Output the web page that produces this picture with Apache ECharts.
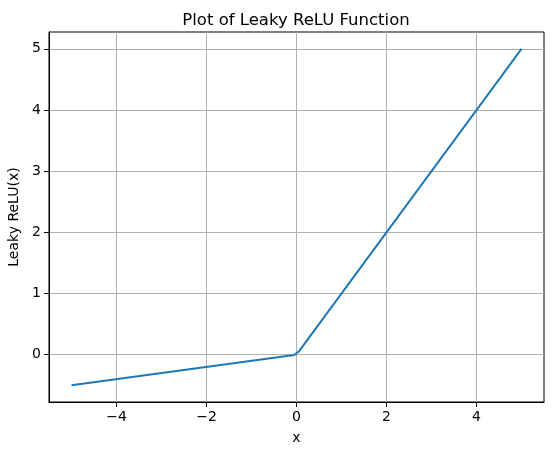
<!DOCTYPE html>
<html>
<head>
<meta charset="utf-8">
<script src="https://cdn.jsdelivr.net/npm/echarts@6/dist/echarts.min.js"></script>
<style>
  html, body { margin: 0; padding: 0; background: #fff; }
  #chart { width: 554px; height: 455px; }
</style>
</head>
<body>
<div id="chart"></div>
<script>
// points (kink sits just around x = 0)
const xValues = [-5, -0.05, 0.05, 5];
const yValues = [-0.5, -0.005, 0.05, 5];
const xTicks = [-4, -2, 0, 2, 4];
const yTicks = [0, 1, 2, 3, 4, 5];

const font = 'DejaVu Sans';
const minus = v => String(v).replace('-', '\u2212');

let chart = echarts.init(document.getElementById('chart'));

chart.setOption({
    animation: false,
    title: {
        text: 'Plot of Leaky ReLU Function',
        left: 291,
        textAlign: 'center',
        top: 7,
        textStyle: {
            fontFamily: font,
            fontSize: 16.5,
            fontWeight: 'normal',
            color: '#000'
        }
    },
    grid: {
        left: 49,
        right: 10,
        top: 32,
        bottom: 53,
        outerBoundsMode: 'none',
        containLabel: false,
        show: true,
        borderColor: '#000',
        borderWidth: 1
    },
    xAxis: {
        type: 'value',
        min: -5.5,
        max: 5.5,
        name: 'x',
        nameLocation: 'middle',
        nameGap: 29,
        nameTextStyle: {fontFamily: font, fontSize: 14, color: '#000'},
        axisLine: {show: true, onZero: false, lineStyle: {color: '#000', width: 1}},
        axisTick: {show: true, length: 5, customValues: xTicks, lineStyle: {color: '#000'}},
        axisLabel: {
            customValues: xTicks,
            fontFamily: font, fontSize: 14, color: '#000', margin: 8,
            formatter: minus
        },
        splitLine: {show: true, lineStyle: {color: '#b0b0b0', width: 1}}
    },
    yAxis: {
        type: 'value',
        min: -0.775,
        max: 5.275,
        name: 'Leaky ReLU(x)',
        nameLocation: 'middle',
        nameGap: 27,
        nameTextStyle: {fontFamily: font, fontSize: 14, color: '#000'},
        axisLine: {show: true, onZero: false, lineStyle: {color: '#000', width: 1}},
        axisTick: {show: true, length: 5, customValues: yTicks, lineStyle: {color: '#000'}},
        axisLabel: {
            customValues: yTicks,
            fontFamily: font, fontSize: 14, color: '#000', margin: 8,
            formatter: minus
        },
        splitLine: {show: true, lineStyle: {color: '#b0b0b0', width: 1}}
    },
    series: [{
        type: 'line',
        data: xValues.map((x, i) => [x, yValues[i]]),
        showSymbol: false,
        lineStyle: {color: '#1f77b4', width: 2},
        itemStyle: {color: '#1f77b4'}
    }]
});
</script>
</body>
</html>
